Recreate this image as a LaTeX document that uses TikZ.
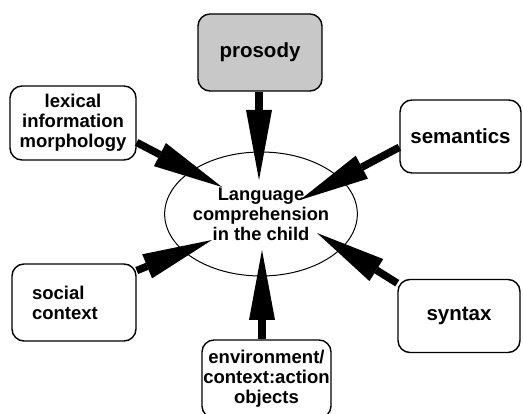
\documentclass[tikz,border=0pt]{standalone}
\usepackage{fontspec}
\setmainfont{Liberation Sans}
\usetikzlibrary{arrows.meta,shapes.geometric}
\definecolor{boxgray}{RGB}{200,200,200}
\tikzset{
  box/.style={draw=black, line width=1.4pt, rounded corners=12pt, inner sep=0pt,
    align=center, font=\bfseries\fontsize{18.5}{20}\selectfont},
  bigtext/.style={font=\bfseries\fontsize{20.5}{22}\selectfont},
  bigarrow/.style={line width=7.5pt, -{Triangle[length=70pt,width=26pt,line width=0pt]}},
}
\begin{document}
\begin{tikzpicture}[x=1pt,y=-1pt]
\useasboundingbox (0,0) rectangle (523,414);
\fill[white] (0,0) rectangle (523,414);
% boxes
\node[box, bigtext, fill=boxgray, minimum width=124pt, minimum height=77pt] (pro) at (260,52.5) {prosody};
\node[box, minimum width=126pt, minimum height=74pt] (lex) at (73,123) {lexical\\information\\morphology};
\node[box, bigtext, minimum width=121pt, minimum height=73pt] (sem) at (460.5,136.5) {semantics};
\node[box, minimum width=124pt, minimum height=77pt, text width=84pt, align=left] (soc) at (74,302.5) {social\\context};
\node[box, bigtext, minimum width=122pt, minimum height=73pt] (syn) at (459,316) {syntax};
\node[box, minimum width=129pt, minimum height=78pt] (env) at (266.5,379) {environment/\\context:action\\objects};
% centre
\node[ellipse, draw=black, line width=1pt, minimum width=164pt, minimum height=124pt, inner sep=0pt,
  align=center, font=\bfseries\fontsize{18.3}{20}\selectfont] (lang) at (261,214) {Language\\comprehension\\in the child};
% arrow tips
\coordinate (proT) at (259,180);
\coordinate (envT) at (262,250);
\coordinate (lexT) at (222,187);
\coordinate (semT) at (300,200);
\coordinate (socT) at (212,240);
\coordinate (synT) at (317,233);
% arrows
\draw[bigarrow] (pro.south -| proT) -- (proT);
\draw[bigarrow] (env.north -| envT) -- (envT);
\draw[bigarrow] (lex.-17) -- (lexT);
\draw[bigarrow] (sem.190) -- (semT);
\draw[bigarrow] (soc.27) -- (socT);
\draw[bigarrow] (syn.152) -- (synT);
\end{tikzpicture}
\end{document}
